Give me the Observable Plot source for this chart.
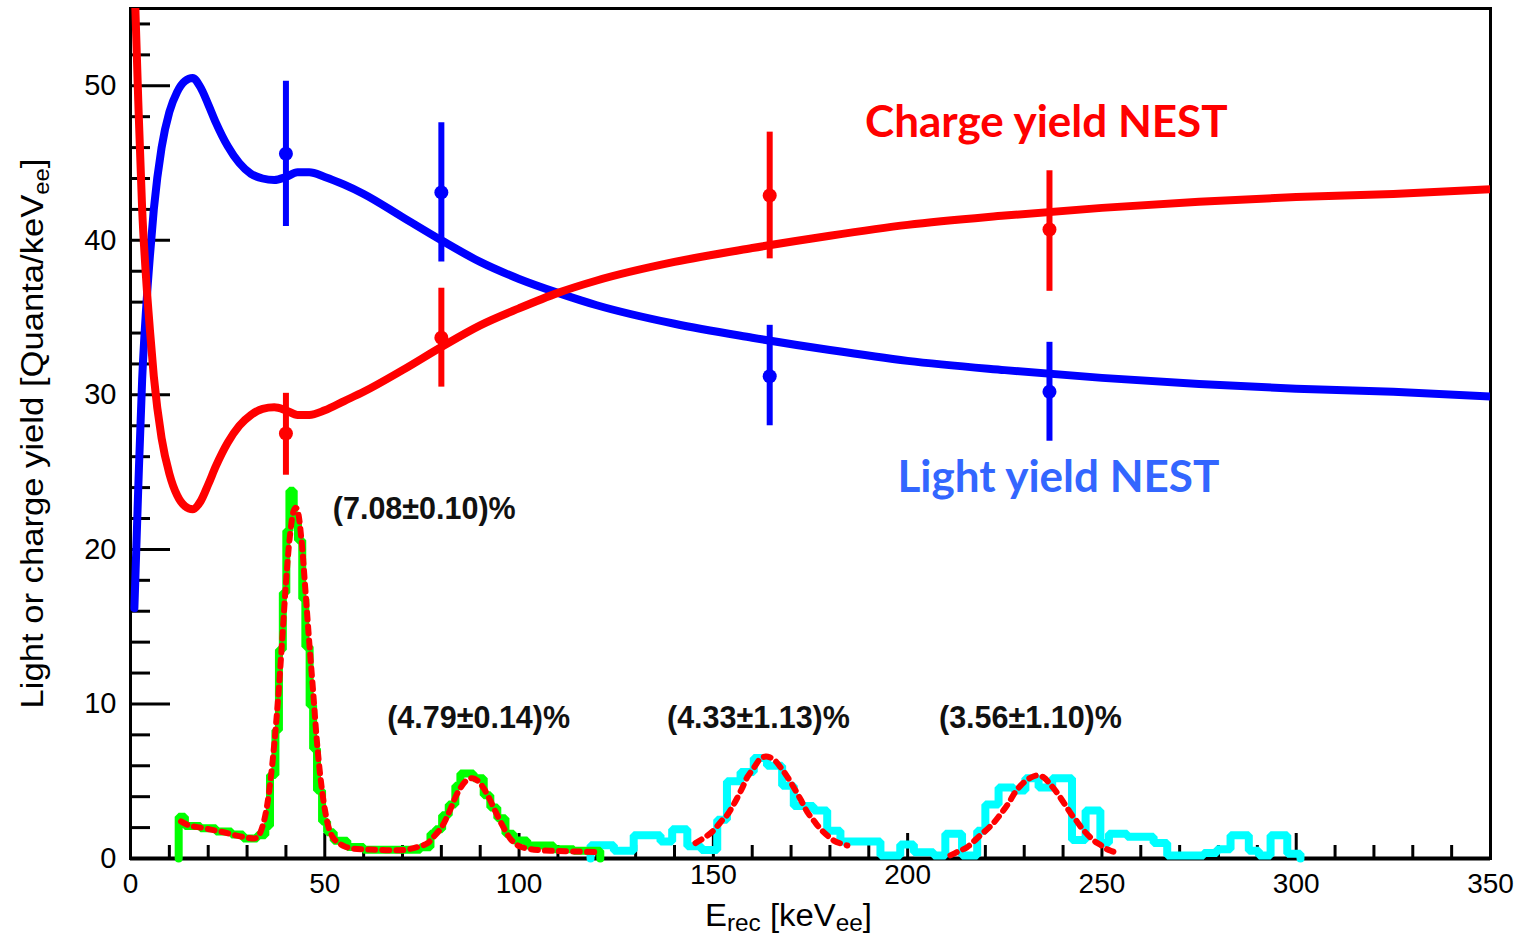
<!DOCTYPE html>
<html>
<head>
<meta charset="utf-8">
<script src="https://cdn.jsdelivr.net/npm/d3@7"></script>
<script src="https://cdn.jsdelivr.net/npm/@observablehq/plot@0.6"></script>
<style>
  html, body { margin: 0; padding: 0; background: #fff; }
  #chart svg { display: block; }
</style>
</head>
<body>
<div id="chart"></div>
<script>
// ---------- NEST yield curves ----------
const curveEnergy = [1, 2, 3, 4, 5, 6, 8, 10, 12, 14, 16, 18, 20, 22, 25, 28, 31, 34, 37, 40, 43, 46, 50, 55, 60, 70, 80, 90, 100, 110, 120, 140, 160, 180, 200, 225, 250, 275, 300, 325, 350];
const lightYield = [16.2, 24, 31, 35.5, 39, 42, 46, 48.3, 49.6, 50.3, 50.5, 49.9, 48.8, 47.6, 46.1, 45.0, 44.3, 44.0, 43.9, 44.1, 44.4, 44.4, 44.1, 43.6, 43.0, 41.5, 40.0, 38.6, 37.5, 36.6, 35.8, 34.6, 33.7, 32.9, 32.2, 31.6, 31.1, 30.7, 30.4, 30.2, 29.9];
const chargeYield = [57, 49, 42, 37.6, 34.2, 31.2, 27.2, 24.9, 23.5, 22.8, 22.6, 23.1, 24.2, 25.4, 26.9, 28.0, 28.7, 29.1, 29.2, 29.0, 28.7, 28.7, 29.0, 29.6, 30.2, 31.6, 33.1, 34.5, 35.6, 36.6, 37.4, 38.6, 39.5, 40.3, 41.0, 41.6, 42.1, 42.5, 42.8, 43.0, 43.3];

// ---------- measured points with error bars ----------
const pointEnergy = [40, 80, 164.5, 236.5];
const lightPoint = [45.6, 43.1, 31.2, 30.2];
const lightLow = [40.9, 38.6, 28.0, 27.0];
const lightHigh = [50.3, 47.6, 34.5, 33.4];
const chargePoint = [27.5, 33.7, 42.9, 40.7];
const chargeLow = [24.8, 30.5, 38.8, 36.7];
const chargeHigh = [30.1, 36.9, 47.0, 44.5];

// ---------- spectra (histograms) ----------
const greenEdges = [12.4, 14.0, 18.0, 22.0, 26.0, 29.0, 32.6, 34.7, 35.9, 37.3, 38.2, 39.2, 40.1, 40.9, 42.0, 43.1, 44.2, 45.0, 46.1, 47.0, 48.0, 49.3, 50.6, 52.3, 55.8, 60.0, 74.6, 77.2, 78.5, 80.2, 81.9, 83.6, 84.9, 88.3, 90.9, 92.6, 94.4, 96.5, 98.6, 102.1, 108.9, 114.1, 120.9];
const greenCounts = [2.7, 2.1, 1.95, 1.75, 1.55, 1.3, 1.5, 2.1, 5.4, 8.3, 13.5, 17.2, 21.2, 23.8, 21.8, 20.6, 16.8, 13.7, 9.9, 7.1, 4.4, 2.4, 1.7, 1.15, 0.75, 0.57, 0.73, 1.6, 1.9, 2.8, 3.5, 4.7, 5.5, 5.2, 4.1, 3.3, 2.6, 1.6, 1.16, 0.84, 0.6, 0.5];
const cyanEdges = [118.4, 124.4, 129.5, 136.4, 139.4, 143.3, 146.9, 151.0, 153.5, 157.0, 160.4, 163.8, 167.7, 170.7, 175.8, 179.3, 182.7, 193.0, 198.1, 201.6, 206.7, 209.7, 214.0, 217.9, 220.0, 223.4, 227.3, 230.3, 233.7, 237.2, 242.3, 245.8, 249.6, 251.8, 256.5, 263.3, 266.8, 276.2, 279.6, 283.1, 287.8, 290.4, 293.4, 297.7, 301.1];
const cyanCounts = [0.85, 0.5, 1.5, 1.1, 1.9, 0.8, 0.55, 2.5, 5.0, 5.6, 6.5, 6.0, 4.7, 3.4, 3.1, 1.8, 1.1, 0.2, 0.9, 0.4, 0.2, 1.6, 0.2, 1.8, 3.5, 4.6, 4.4, 5.2, 4.6, 5.2, 1.2, 3.1, 1.0, 1.6, 1.4, 1.0, 0.2, 0.35, 0.6, 1.5, 0.5, 0.2, 1.5, 0.3];

// ---------- fitted peaks (red dotted) ----------
const fit12E = [13, 15, 18, 21, 24, 27, 30, 32, 33, 34, 35, 36, 37, 38, 39, 40, 41, 42, 42.5, 43, 44, 45, 46, 47, 48, 49, 50, 51, 52, 53, 55, 57, 62, 70, 74, 76.5, 78, 80, 82, 83.5, 85, 86.5, 88, 89.5, 91, 92.5, 94, 96, 98, 100, 103, 108, 115, 121];
const fit12Y = [2.4, 2.15, 2.0, 1.85, 1.7, 1.5, 1.35, 1.3, 1.5, 2.1, 3.2, 5.0, 7.4, 10.4, 14.0, 17.8, 20.8, 22.5, 22.7, 22.5, 20.6, 17.4, 14.0, 10.8, 7.5, 5.0, 3.2, 2.0, 1.4, 1.1, 0.8, 0.65, 0.58, 0.55, 0.75, 1.0, 1.4, 2.0, 3.0, 3.9, 4.6, 5.05, 5.2, 5.0, 4.5, 3.8, 3.0, 2.0, 1.2, 0.8, 0.6, 0.5, 0.45, 0.4];
const fit3E = [145.4, 148, 150, 152, 153.5, 155, 156.1, 157.5, 158.7, 160.5, 162.1, 163.5, 164.5, 166, 167.3, 169, 170.7, 172.5, 174.2, 176, 177.6, 179.5, 181, 183, 184.5];
const fit3Y = [1.0, 1.4, 1.8, 2.4, 2.8, 3.4, 3.9, 4.6, 5.25, 5.9, 6.45, 6.6, 6.55, 6.3, 5.9, 5.3, 4.6, 3.8, 3.0, 2.4, 1.9, 1.45, 1.16, 0.95, 0.84];
const fit4E = [211, 213, 215.3, 217, 218.7, 220.5, 222.1, 223.7, 225.2, 226.5, 227.7, 229, 230.3, 231.8, 233.3, 235, 236.7, 238.3, 239.8, 241, 242.3, 243.7, 245, 246.5, 247.9, 249.5, 250.9, 252.5, 254.3];
const fit4Y = [0.2, 0.45, 0.73, 1.1, 1.5, 1.9, 2.3, 2.8, 3.3, 3.8, 4.3, 4.7, 5.0, 5.25, 5.37, 5.25, 4.8, 4.3, 3.75, 3.3, 2.8, 2.35, 1.9, 1.5, 1.16, 0.9, 0.65, 0.48, 0.33];

// ---------- annotations ----------
const resolutionText = ["(7.08\u00b10.10)%", "(4.79\u00b10.14)%", "(4.33\u00b11.13)%", "(3.56\u00b11.10)%"];
const resolutionE = [75.6, 89.6, 161.6, 231.6];
const resolutionY = [22.6, 9.1, 9.1, 9.1];
const curveLabelText = ["Charge yield NEST", "Light yield NEST"];
const curveLabelE = [235.7, 238.8];
const curveLabelY = [47.6, 24.6];

// ---------- ticks ----------
const xMajor = [0, 50, 100, 150, 200, 250, 300, 350];
const xLabelLow = [0, 50, 100, 250, 300, 350];
const xLabelHigh = [150, 200];
const xMinor = [10, 20, 30, 40, 60, 70, 80, 90, 110, 120, 130, 140, 160, 170, 180, 190, 210, 220, 230, 240, 260, 270, 280, 290, 310, 320, 330, 340];
const yMajor = [0, 10, 20, 30, 40, 50];
const yMinor = [2, 4, 6, 8, 12, 14, 16, 18, 22, 24, 26, 28, 32, 34, 36, 38, 42, 44, 46, 48, 52, 54];

// ---------- build tables ----------
const lightCurve = curveEnergy.map((e, i) => ({e, v: lightYield[i]}));
const chargeCurve = curveEnergy.map((e, i) => ({e, v: chargeYield[i]}));
const lightPts = pointEnergy.map((e, i) => ({e, v: lightPoint[i], lo: lightLow[i], hi: lightHigh[i]}));
const chargePts = pointEnergy.map((e, i) => ({e, v: chargePoint[i], lo: chargeLow[i], hi: chargeHigh[i]}));
function stepTable(edges, counts) {
  const t = [{e: edges[0], v: 0}];
  counts.forEach((c, i) => t.push({e: edges[i], v: c}));
  t.push({e: edges[edges.length - 1], v: counts[counts.length - 1]});
  t.push({e: edges[edges.length - 1], v: 0});
  return t;
}
const greenHist = stepTable(greenEdges, greenCounts);
const cyanHist = stepTable(cyanEdges, cyanCounts);
const fits = [
  ...fit12E.map((e, i) => ({e, v: fit12Y[i], g: "a"})),
  ...fit3E.map((e, i) => ({e, v: fit3Y[i], g: "b"})),
  ...fit4E.map((e, i) => ({e, v: fit4Y[i], g: "c"}))
];
const resLabels = resolutionText.map((t, i) => ({t, e: resolutionE[i], v: resolutionY[i]}));
const curveLabels = curveLabelText.map((t, i) => ({t, e: curveLabelE[i], v: curveLabelY[i]}));

const BLUE = "#0000ff", RED = "#ff0000";
const plotW = 1526 - 130 - 36, plotH = 938 - 8 - 80;

const chart = Plot.plot({
  width: 1526,
  height: 938,
  marginLeft: 130,
  marginRight: 36,
  marginTop: 8,
  marginBottom: 80,
  x: {domain: [0, 350]},
  y: {domain: [0, 55]},
  style: {fontFamily: "'Liberation Sans', Arial, sans-serif", background: "#fff", color: "#000", overflow: "visible"},
  marks: [
    Plot.axisX(xLabelLow, {tickSize: 0, tickPadding: 15, fontSize: 28, label: null, tickFormat: d => String(d)}),
    Plot.axisX(xLabelHigh, {tickSize: 0, tickPadding: 6, fontSize: 28, label: null, tickFormat: d => String(d)}),
    Plot.axisY(yMajor, {tickSize: 0, tickPadding: 14, fontSize: 29, label: null, tickFormat: d => String(d)}),
    Plot.tickX(xMajor, {x: d => d, insetTop: plotH - 25, strokeWidth: 3, stroke: "#000"}),
    Plot.tickX(xMinor, {x: d => d, insetTop: plotH - 13, strokeWidth: 3, stroke: "#000"}),
    Plot.tickY(yMajor, {y: d => d, insetRight: plotW - 40, strokeWidth: 3, stroke: "#000"}),
    Plot.tickY(yMinor, {y: d => d, insetRight: plotW - 20, strokeWidth: 3, stroke: "#000"}),
    Plot.frame({stroke: "#000", strokeWidth: 3}),
    Plot.ruleY([0], {stroke: "#000", strokeWidth: 4}),
    // NEST curves
    Plot.line(lightCurve, {x: "e", y: "v", stroke: BLUE, strokeWidth: 8, curve: "monotone-x", clip: true}),
    Plot.line(chargeCurve, {x: "e", y: "v", stroke: RED, strokeWidth: 8, curve: "monotone-x", clip: true}),
    // data points
    Plot.ruleX(lightPts, {x: "e", y1: "lo", y2: "hi", stroke: BLUE, strokeWidth: 6}),
    Plot.dot(lightPts, {x: "e", y: "v", r: 7, fill: BLUE}),
    Plot.ruleX(chargePts, {x: "e", y1: "lo", y2: "hi", stroke: RED, strokeWidth: 6}),
    Plot.dot(chargePts, {x: "e", y: "v", r: 7, fill: RED}),
    // spectra
    Plot.line(cyanHist, {x: "e", y: "v", stroke: "#00ffff", strokeWidth: 8, curve: "step-after", strokeLinejoin: "miter"}),
    Plot.line(greenHist, {x: "e", y: "v", stroke: "#00ff00", strokeWidth: 8, curve: "step-after", strokeLinejoin: "miter"}),
    Plot.line(fits, {x: "e", y: "v", z: "g", stroke: RED, strokeWidth: 6, strokeDasharray: "7,7", curve: "catmull-rom"}),
    // annotations
    Plot.text(resLabels, {x: "e", y: "v", text: "t", fontSize: 30.5, fontWeight: "bold", fill: "#111"}),
    Plot.text(curveLabels, {x: "e", y: "v", text: "t", fontSize: 44, fontWeight: "bold", fontFamily: "Lato, 'Open Sans', sans-serif",
      fill: (d, i) => i === 0 ? RED : "#3366ff"}),
    // axis titles (placeholders, filled with rich text below)
    Plot.text(["XLABEL"], {frameAnchor: "bottom", dx: -22, dy: 67, text: d => d, fontSize: 31, textAnchor: "middle"}),
    Plot.text(["YLABEL"], {frameAnchor: "left", dx: -98, rotate: -90, text: d => d, fontSize: 32, textAnchor: "middle"})
  ]
});

document.getElementById("chart").appendChild(chart);

// rich-text axis titles (subscripts)
const root = d3.select(chart);
const findText = s => root.selectAll("text").filter(function () { return this.textContent === s; });
const xl = findText("XLABEL");
xl.text(null).attr("textLength", 167).attr("lengthAdjust", "spacingAndGlyphs");
xl.append("tspan").text("E");
xl.append("tspan").attr("dy", 5).attr("font-size", 23).text("rec");
xl.append("tspan").attr("dy", -5).text(" [keV");
xl.append("tspan").attr("dy", 5).attr("font-size", 23).text("ee");
xl.append("tspan").attr("dy", -5).text("]");
const yl = findText("YLABEL");
yl.text(null).attr("textLength", 550).attr("lengthAdjust", "spacingAndGlyphs");
yl.append("tspan").text("Light or charge yield [Quanta/keV");
yl.append("tspan").attr("dy", 6).attr("font-size", 22).text("ee");
yl.append("tspan").attr("dy", -6).text("]");
</script>
</body>
</html>
